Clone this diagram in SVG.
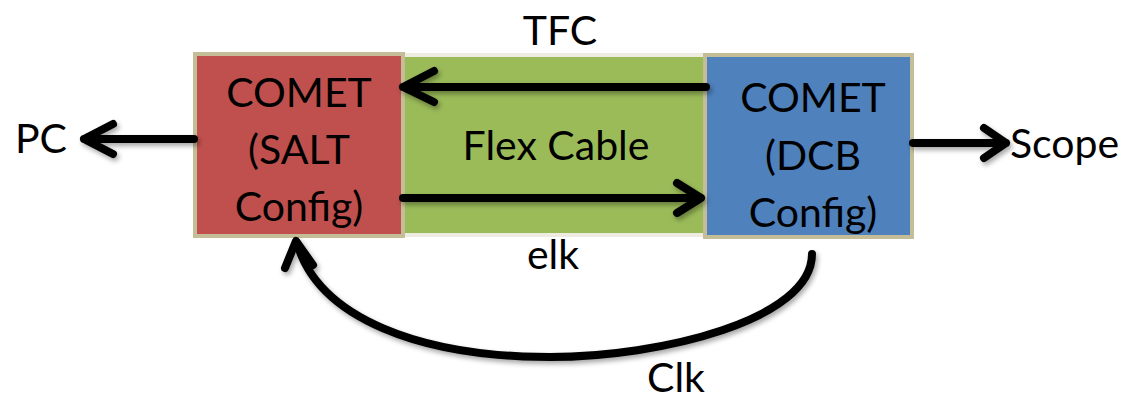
<svg xmlns="http://www.w3.org/2000/svg" width="1124" height="405" viewBox="0 0 1124 405">
  <style>
    .lbl { font-family: Lato, "Open Sans", "Liberation Sans", sans-serif; font-size: 41px; fill: #000; text-anchor: middle; }
    .box { stroke: #C4BD97; stroke-width: 4; }
    .wire { fill: none; stroke: #000; stroke-width: 8; stroke-linecap: round; stroke-linejoin: round; }
  </style>
  <defs>
    <filter id="shadow" x="-10%" y="-30%" width="120%" height="160%">
      <feDropShadow dx="2" dy="3" stdDeviation="2.5" flood-color="#000" flood-opacity="0.35"/>
    </filter>
  </defs>
  <rect width="1124" height="405" fill="#fff"/>

  <!-- flex cable between the two boards -->
  <g id="flex-cable">
    <rect x="400" y="55" width="306" height="180" fill="#9BBB59" stroke="#EEECE1" stroke-width="4"/>
    <text class="lbl" x="556" y="160">Flex Cable</text>
  </g>

  <g id="comet-salt">
    <rect class="box" x="195" y="54" width="208" height="182" fill="#C0504D"/>
    <text class="lbl" x="299" y="107">COMET</text>
    <text class="lbl" x="299" y="164">(SALT</text>
    <text class="lbl" x="299" y="221">Config)</text>
  </g>

  <g id="comet-dcb">
    <rect class="box" x="705" y="55" width="207" height="182" fill="#4F81BD"/>
    <text class="lbl" x="813" y="112">COMET</text>
    <text class="lbl" x="813" y="170">(DCB</text>
    <text class="lbl" x="813" y="227">Config)</text>
  </g>

  <g id="pc">
    <text class="lbl" x="41" y="153">PC</text>
  </g>
  <g id="scope">
    <text class="lbl" x="1010" y="158" style="text-anchor:start">Scope</text>
  </g>

  <g id="connectors" filter="url(#shadow)">
    <!-- TFC: DCB to SALT -->
    <path class="wire" d="M706 87 H403 M434 71 L403 87 L434 102"/>
    <!-- elk: SALT to DCB -->
    <path class="wire" d="M403 198 H701 M677 183 L701 198 L677 213"/>
    <!-- SALT to PC -->
    <path class="wire" d="M194 139 H84 M113 124 L84 139 L113 154"/>
    <!-- DCB to Scope -->
    <path class="wire" d="M913 143 H1006 M984 128 L1006 143 L984 158"/>
    <!-- Clk: DCB back round to SALT -->
    <path class="wire" d="M812 254 C 812 320 660 357 550 357 C 420 357 318 318 297 243"/>
    <path class="wire" d="M285 268 L296 241 L313 265"/>
  </g>

  <g id="labels">
    <text class="lbl" x="560" y="45">TFC</text>
    <text class="lbl" x="553" y="269">elk</text>
    <text class="lbl" x="676" y="392">Clk</text>
  </g>
</svg>
